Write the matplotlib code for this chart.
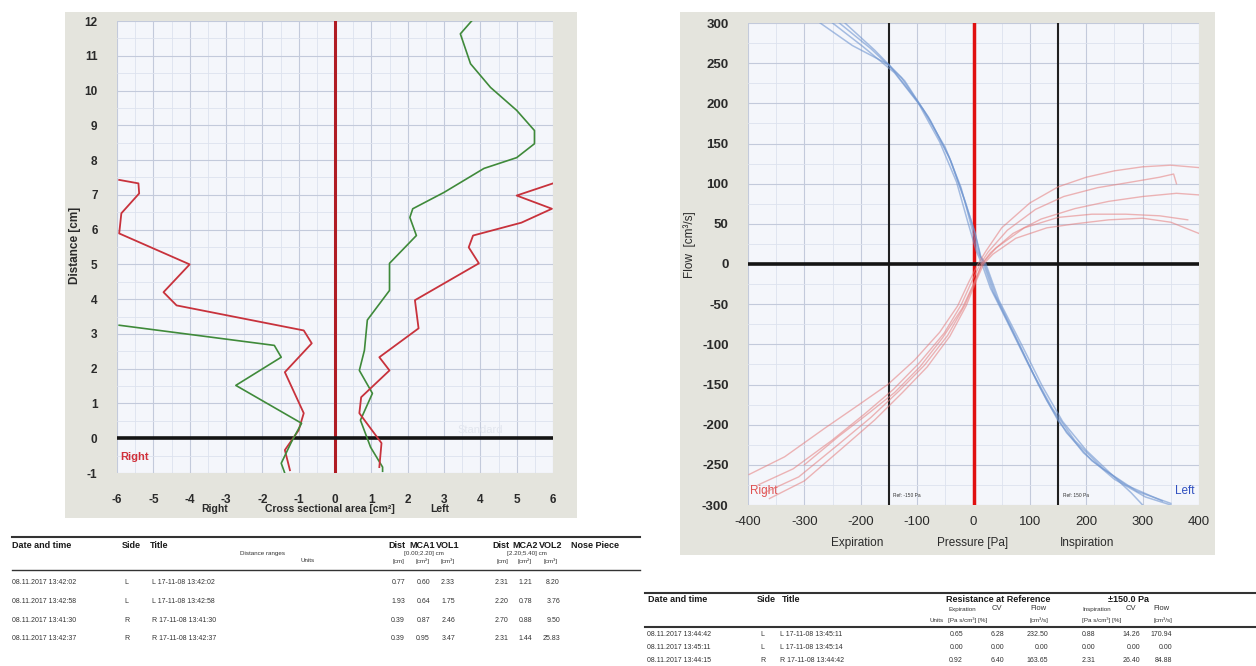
import matplotlib
matplotlib.use("Agg")
import matplotlib.pyplot as plt
from matplotlib.patches import Rectangle
from matplotlib.lines import Line2D
from matplotlib.ticker import MultipleLocator

plt.rcParams['font.family'] = ['Liberation Sans', 'DejaVu Sans']

W, H = 1256, 666

# ---- acoustic rhinometry: cross sectional area vs distance ----
dist_ticks = list(range(-1, 13))
area_ticks = list(range(-6, 7))

# right nostril (drawn on the negative side)
right_red_area = [-5.94, -5.41, -5.39, -5.88, -5.94, -4.0, -4.72, -4.36, -0.86, -0.64,
                  -1.38, -0.86, -1.0, -1.38, -1.24]
right_red_dist = [7.43, 7.33, 7.04, 6.47, 5.89, 5.0, 4.2, 3.82, 3.1, 2.73,
                  1.9, 0.72, 0.23, -0.34, -0.92]
right_green_area = [-5.94, -1.67, -1.48, -2.73, -0.92, -1.2, -1.48, -1.39]
right_green_dist = [3.25, 2.67, 2.33, 1.52, 0.43, -0.11, -0.72, -0.98]

# left nostril (positive side)
left_green_area = [3.76, 3.45, 3.73, 4.28, 5.0, 5.49, 5.49, 5.0, 4.1, 3.0, 2.14, 2.06,
                   2.24, 1.5, 1.5, 0.89, 0.81, 0.67, 1.03, 0.7, 0.98, 1.31, 1.31]
left_green_dist = [12.0, 11.63, 10.77, 10.09, 9.43, 8.85, 8.47, 8.07, 7.76, 7.07, 6.6, 6.35,
                   5.83, 5.03, 4.25, 3.4, 2.53, 1.95, 1.29, 0.52, -0.26, -0.83, -0.95]
left_red_area = [6.0, 5.0, 5.97, 5.13, 3.8, 3.68, 3.96, 2.2, 2.3, 1.22, 1.5, 0.72, 0.67,
                 1.28, 1.22]
left_red_dist = [7.33, 6.98, 6.6, 6.2, 5.83, 5.49, 5.03, 3.97, 3.16, 2.33, 1.95, 1.18, 0.72,
                 -0.14, -0.83]

# ---- rhinomanometry: flow vs pressure ----
pressure_ticks = list(range(-400, 401, 100))
flow_ticks = list(range(-300, 301, 50))
ref_pressure = [-150, 150]

blue_pressure = [
    [-272, -215, -150, -100, -60, -30, -10, 5, 15, 30, 60, 95, 130, 165, 210, 270, 335],
    [-250, -195, -140, -90, -50, -22, -5, 8, 18, 35, 70, 105, 140, 180, 230, 290, 350],
    [-238, -182, -128, -80, -43, -16, 2, 12, 20, 40, 78, 115, 150, 195, 250, 305, 350],
    [-228, -175, -122, -76, -40, -14, 3, 13, 22, 45, 85, 122, 158, 200, 245, 280, 300],
]
blue_flow = [
    [300, 272, 248, 203, 152, 102, 52, 16, 0, -30, -72, -122, -170, -210, -245, -275, -295],
    [300, 270, 238, 193, 145, 95, 50, 15, 0, -35, -85, -135, -180, -220, -255, -283, -298],
    [300, 268, 232, 183, 133, 80, 40, 10, 0, -40, -95, -150, -195, -235, -268, -290, -300],
    [300, 266, 228, 178, 128, 76, 38, 9, 0, -45, -100, -152, -196, -232, -262, -285, -300],
]
red_pressure = [
    [-398, -335, -265, -205, -152, -105, -60, -28, -8, 8, 22, 50, 100, 150, 200, 250, 300, 350, 400],
    [-382, -320, -252, -192, -142, -96, -52, -22, -2, 12, 26, 60, 110, 160, 220, 280, 330, 355, 360],
    [-372, -310, -242, -182, -132, -87, -46, -16, 4, 15, 30, 70, 120, 180, 240, 300, 360, 400],
    [-362, -300, -234, -175, -126, -82, -42, -13, 6, 18, 34, 75, 130, 180, 240, 300, 350, 400],
    [-300, -240, -190, -140, -95, -55, -20, 0, 15, 40, 90, 150, 210, 270, 330, 380],
]
red_flow = [
    [-262, -240, -205, -176, -150, -120, -85, -52, -22, 0, 16, 45, 76, 96, 108, 116, 121, 123, 120],
    [-275, -255, -220, -186, -156, -123, -86, -51, -20, 0, 15, 42, 68, 84, 95, 102, 108, 112, 100],
    [-285, -265, -226, -191, -158, -126, -89, -52, -20, 0, 14, 38, 56, 69, 78, 84, 88, 86],
    [-292, -270, -230, -194, -160, -128, -90, -52, -19, 0, 12, 32, 45, 50, 55, 57, 52, 38],
    [-250, -215, -188, -160, -128, -92, -55, -25, 0, 20, 45, 58, 62, 62, 60, 55],
]

# ---- result tables ----
mca_rows = [
    ["08.11.2017 13:42:02", "L", "L 17-11-08 13:42:02", "0.77", "0.60", "2.33", "2.31", "1.21", "8.20"],
    ["08.11.2017 13:42:58", "L", "L 17-11-08 13:42:58", "1.93", "0.64", "1.75", "2.20", "0.78", "3.76"],
    ["08.11.2017 13:41:30", "R", "R 17-11-08 13:41:30", "0.39", "0.87", "2.46", "2.70", "0.88", "9.50"],
    ["08.11.2017 13:42:37", "R", "R 17-11-08 13:42:37", "0.39", "0.95", "3.47", "2.31", "1.44", "25.83"],
]
res_rows = [
    ["08.11.2017 13:44:42", "L", "L 17-11-08 13:45:11", "0.65", "6.28", "232.50", "0.88", "14.26", "170.94"],
    ["08.11.2017 13:45:11", "L", "L 17-11-08 13:45:14", "0.00", "0.00", "0.00", "0.00", "0.00", "0.00"],
    ["08.11.2017 13:44:15", "R", "R 17-11-08 13:44:42", "0.92", "6.40", "163.65", "2.31", "26.40", "84.88"],
]


def box(x0, y0, x1, y1):
    return [x0 / W, 1 - y1 / H, (x1 - x0) / W, (y1 - y0) / H]


def ptext(x, y, s, **kw):
    kw.setdefault('va', 'center')
    fig.text(x / W, 1 - y / H, s, **kw)


def hline(x0, x1, y, lw=1.2, color='#333333'):
    fig.add_artist(Line2D([x0 / W, x1 / W], [1 - y / H] * 2, transform=fig.transFigure,
                          color=color, lw=lw))


def panel(x0, y0, x1, y1, color='#e4e4dd'):
    fig.add_artist(Rectangle((x0 / W, 1 - y1 / H), (x1 - x0) / W, (y1 - y0) / H,
                             transform=fig.transFigure, facecolor=color, edgecolor='none',
                             zorder=0))


def style_grid(ax):
    ax.set_facecolor('#f4f6fb')
    for s in ax.spines.values():
        s.set_visible(False)
    ax.grid(which='major', color='#c3cadb', lw=0.8)
    ax.grid(which='minor', color='#dde2ee', lw=0.6)
    ax.tick_params(which='both', length=0, colors='#2a2a2a')
    ax.set_axisbelow(True)


fig = plt.figure(figsize=(W / 100, H / 100), dpi=100)
fig.patch.set_facecolor('white')

# ================= left chart =================
panel(65, 12, 577, 518)
ax1 = fig.add_axes(box(117, 21, 553, 473))
style_grid(ax1)
ax1.set_xlim(-6, 6)
ax1.set_ylim(-1, 12)
ax1.set_xticks(area_ticks)
ax1.set_yticks(dist_ticks)
ax1.xaxis.set_minor_locator(MultipleLocator(0.5))
ax1.yaxis.set_minor_locator(MultipleLocator(0.5))
ax1.set_xticklabels([str(t) for t in area_ticks], fontsize=8.5, fontweight='bold')
ax1.set_yticklabels([str(t) for t in dist_ticks], fontsize=8.5, fontweight='bold')
ax1.tick_params(axis='x', pad=15)
ax1.tick_params(axis='y', pad=14)

ax1.axvline(0, color='#b01c24', lw=2.2, zorder=3)
ax1.axhline(0, color='#141414', lw=2.6, zorder=3)
ax1.plot(right_red_area, right_red_dist, color='#c8323c', lw=1.3, zorder=4)
ax1.plot(right_green_area, right_green_dist, color='#3f8a3a', lw=1.2, zorder=4)
ax1.plot(left_green_area, left_green_dist, color='#3f8a3a', lw=1.2, zorder=4)
ax1.plot(left_red_area, left_red_dist, color='#c8323c', lw=1.3, zorder=4)
ax1.text(-5.9, -0.55, 'Right', color='#d0303a', fontsize=8, fontweight='bold', va='center')
ax1.text(4.0, 0.25, 'Standard', color='#e2e6ee', fontsize=8, ha='center', va='center')

ptext(75, 245, 'Distance [cm]', rotation=90, ha='center', fontsize=8.5,
      fontweight='bold', color='#2a2a2a')
ptext(215, 509, 'Right', ha='center', fontsize=7.5, fontweight='bold', color='#2a2a2a')
ptext(330, 509, 'Cross sectional area [cm²]', ha='center', fontsize=7.5,
      fontweight='bold', color='#2a2a2a')
ptext(440, 509, 'Left', ha='center', fontsize=7.5, fontweight='bold', color='#2a2a2a')

# ================= right chart =================
panel(680, 12, 1215, 555)
ax2 = fig.add_axes(box(748, 23, 1199, 505))
style_grid(ax2)
ax2.set_xlim(-400, 400)
ax2.set_ylim(-300, 300)
ax2.set_xticks(pressure_ticks)
ax2.set_yticks(flow_ticks)
ax2.xaxis.set_minor_locator(MultipleLocator(50))
ax2.yaxis.set_minor_locator(MultipleLocator(25))
ax2.set_xticklabels([str(t) for t in pressure_ticks], fontsize=9.5)
ax2.set_yticklabels([str(t) for t in flow_ticks], fontsize=9.5, fontweight='bold')
ax2.tick_params(axis='x', pad=8)
ax2.tick_params(axis='y', pad=14)

for p, f in zip(blue_pressure, blue_flow):
    ax2.plot(p, f, color='#6f95d0', lw=1.1, alpha=0.6, zorder=4)
for p, f in zip(red_pressure, red_flow):
    ax2.plot(p, f, color='#e57b7b', lw=1.0, alpha=0.55, zorder=4)
for r in ref_pressure:
    ax2.axvline(r, color='#202020', lw=1.5, zorder=3)
    ax2.text(r + 8, -288, 'Ref: %d Pa' % r, fontsize=3.5, color='#333333', va='center')
ax2.axvline(0, color='#e01010', lw=2.5, zorder=3)
ax2.axhline(0, color='#141414', lw=2.6, zorder=3)
ax2.text(-396, -282, 'Right', color='#e05050', fontsize=8.5, va='center')
ax2.text(392, -282, 'Left', color='#3050c0', fontsize=8.5, va='center', ha='right')

ptext(690, 245, 'Flow  [cm³/s]', rotation=90, ha='center', fontsize=8.5, color='#2a2a2a')
ptext(857, 543, 'Expiration', ha='center', fontsize=8.5, color='#2a2a2a')
ptext(973, 543, 'Pressure [Pa]', ha='center', fontsize=8.5, color='#2a2a2a')
ptext(1087, 543, 'Inspiration', ha='center', fontsize=8.5, color='#2a2a2a')

# ================= left table =================
hline(12, 640, 537, lw=1.5)
hdr = dict(fontsize=6.5, fontweight='bold', color='#1a1a1a')
small = dict(fontsize=4.5, color='#333333')
body = dict(fontsize=5, color='#333333')
ptext(12, 545, 'Date and time', **hdr)
ptext(122, 545, 'Side', **hdr)
ptext(150, 545, 'Title', **hdr)
ptext(397, 545, 'Dist', ha='center', **hdr)
ptext(422, 545, 'MCA1', ha='center', **hdr)
ptext(448, 545, 'VOL1', ha='center', **hdr)
ptext(501, 545, 'Dist', ha='center', **hdr)
ptext(525, 545, 'MCA2', ha='center', **hdr)
ptext(551, 545, 'VOL2', ha='center', **hdr)
ptext(595, 545, 'Nose Piece', ha='center', **hdr)
ptext(285, 553, 'Distance ranges', ha='right', **small)
ptext(315, 561, 'Units', ha='right', **small)
ptext(424, 553, '[0.00;2.20] cm', ha='center', **small)
ptext(527, 553, '[2.20;5.40] cm', ha='center', **small)
for x, u in zip([398, 422, 448, 502, 525, 551], ['[cm]', '[cm²]', '[cm³]'] * 2):
    ptext(x, 561, u, ha='center', **small)
hline(12, 640, 570, lw=1.0)
mca_x = [405, 430, 455, 508, 532, 560]
for i, row in enumerate(mca_rows):
    y = 583 + i * 18.5
    ptext(12, y, row[0], **body)
    ptext(124, y, row[1], **body)
    ptext(152, y, row[2], **body)
    for x, v in zip(mca_x, row[3:]):
        ptext(x, y, v, ha='right', **body)

# ================= right table =================
hline(645, 1256, 593, lw=1.5)
ptext(648, 600, 'Date and time', **hdr)
ptext(757, 600, 'Side', **hdr)
ptext(782, 600, 'Title', **hdr)
ptext(946, 600, 'Resistance at Reference', **hdr)
ptext(1108, 600, '±150.0 Pa', **hdr)
ptext(948, 609, 'Expiration', **small)
ptext(992, 608, 'CV', fontsize=5.5, color='#333333')
ptext(1030, 608, 'Flow', fontsize=5.5, color='#333333')
ptext(1082, 609, 'Inspiration', **small)
ptext(1126, 608, 'CV', fontsize=5.5, color='#333333')
ptext(1153, 608, 'Flow', fontsize=5.5, color='#333333')
ptext(944, 620, 'Units', ha='right', **small)
ptext(948, 620, '[Pa s/cm³] [%]', **small)
ptext(1030, 620, '[cm³/s]', **small)
ptext(1082, 620, '[Pa s/cm³] [%]', **small)
ptext(1153, 620, '[cm³/s]', **small)
hline(645, 1256, 627, lw=1.5)
res_x = [963, 1004, 1048, 1095, 1140, 1172]
for i, row in enumerate(res_rows):
    y = 635 + i * 12.5
    ptext(647, y, row[0], **body)
    ptext(760, y, row[1], **body)
    ptext(780, y, row[2], **body)
    for x, v in zip(res_x, row[3:]):
        ptext(x, y, v, ha='right', **body)

fig.savefig('out.png', dpi=100)
